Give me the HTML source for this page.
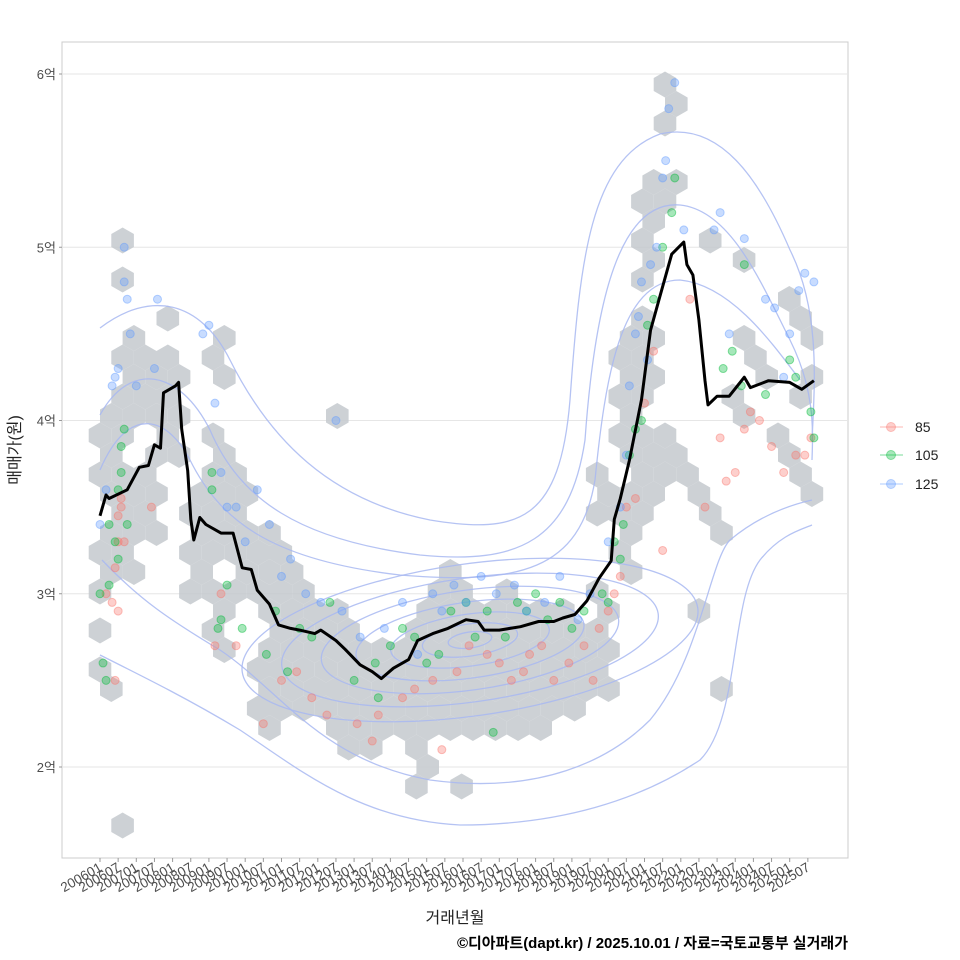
<!DOCTYPE html>
<html><head><meta charset="utf-8"><style>
body{margin:0;background:#fff;}
svg{display:block;font-family:"Liberation Sans","Noto Sans CJK KR",sans-serif;}
</style></head><body>
<svg id="chart" width="960" height="960" viewBox="0 0 960 960">
<rect x="0" y="0" width="960" height="960" fill="#fff"/>
<rect x="62" y="42" width="786" height="816" fill="#fff" stroke="#cccccc" stroke-width="1"/>
<g id="grid"></g>
<g id="hexes"></g>
<g id="contours" fill="none" stroke="#a9b9f2" stroke-width="1.3" opacity="0.85">
<path d="M100,328 C150,290 200,300 230,360 C270,440 330,500 430,520 C520,535 560,520 570,400 C580,260 590,160 660,134 C720,120 760,180 790,250 C820,310 815,380 812,440"/>
<path d="M100,415 C130,360 180,370 210,430 C240,500 300,540 420,555 C520,565 570,540 585,440 C595,300 620,200 680,205 C730,210 760,280 790,340 C815,390 813,430 812,460"/>
<path d="M100,470 C130,400 170,420 190,460 C220,520 270,560 400,575 C520,585 580,570 595,480 C605,380 620,280 680,280 C730,285 770,340 800,380"/>
<path d="M102,560 C140,600 170,620 220,650 C280,690 320,760 430,780 C540,795 610,760 650,720 C700,660 710,560 730,540 C760,515 790,505 812,500"/>
<path d="M100,655 C150,680 190,700 240,730 C300,770 360,820 460,825 C560,825 640,800 700,760 C740,720 730,600 760,560 C780,535 800,530 812,525"/>
</g>
<g id="ellipses" fill="none" stroke="#a9b9f2" stroke-width="1.3" opacity="0.85"></g>
<g id="points"></g>
<g id="medianLine"></g>
<g id="yaxis"></g>
<g id="xaxis"></g>
<text x="20" y="450" transform="rotate(-90 20 450)" text-anchor="middle" font-size="16" fill="#222">매매가(원)</text>
<text x="455" y="923" text-anchor="middle" font-size="16" fill="#222">거래년월</text>
<text x="848" y="948" text-anchor="end" font-size="15" font-weight="bold" fill="#000">©디아파트(dapt.kr) / 2025.10.01 / 자료=국토교통부 실거래가</text>
<g id="legend"></g>
</svg>
<script>
// ---- data ----
const yTicks = [2,3,4,5,6];
const yTickLabels = ["2억","3억","4억","5억","6억"];
const xTickLabels = [];
for (let y=2006;y<=2025;y++){ xTickLabels.push(y+"01"); xTickLabels.push(y+"07"); }
const lineMonths = [0,2,3,9,13,16,18,20,21,25,26,27,29,30,31,33,35,40,44,47,50,52,56,59,63,66,71,73,78,81,86,90,93,97,102,105,110,115,121,125,127,132,139,145,150,153,157,161,165,169,170,172,175,179,182,185,189,193,194,196,198,200,201,204,208,213,215,221,228,232,236];
const lineValues = [3.45,3.57,3.55,3.60,3.73,3.74,3.86,3.84,4.16,4.20,4.22,3.95,3.71,3.43,3.31,3.44,3.40,3.35,3.35,3.15,3.14,3.02,2.94,2.82,2.80,2.79,2.77,2.79,2.73,2.68,2.59,2.55,2.51,2.57,2.62,2.73,2.77,2.80,2.85,2.84,2.79,2.79,2.81,2.84,2.84,2.86,2.88,2.96,3.09,3.19,3.43,3.55,3.77,4.12,4.52,4.71,4.96,5.03,4.90,4.84,4.58,4.23,4.09,4.14,4.14,4.25,4.19,4.23,4.22,4.18,4.23];
// hexbin lattice columns: [col, rowStart, rowEnd]
const hexRanges = [[0,4,18],[1,10,22],[1,25,25],[1,27,27],[1,-3,-3],[2,12,21],[3,16,23],[4,9,14],[5,6,22],[6,9,15],[7,2,12],[8,3,11],[9,3,9],[10,18,18],[10,2,8],[11,1,7],[12,1,6],[13,2,6],[14,-1,8],[15,2,10],[16,2,9],[16,-1,-1],[17,2,8],[18,2,9],[19,2,8],[20,3,8],[21,3,7],[22,4,9],[22,13,15],[23,10,22],[24,13,30],[25,33,35],[25,15,17],[25,29,30],
 [26,8,8],[26,14,15],[27,4,4],[27,12,13],[27,27,27],[28,26,26],[28,18,19],[28,22,22],[29,20,21],[30,24,24],[30,16,17],[31,19,20],[31,22,23],[31,14,15]];
const hexSkip = ["5,18","5,19","7,7","0,6","0,8","0,13","1,16","2,17","3,22","5,10","24,18","24,24","23,15"];
const ptsRed = [[2,3.0],[4,2.95],[5,3.15],[6,3.3],[6,2.9],[7,3.5],[7,3.55],[8,3.3],[6,3.45],[5,2.5],[17,3.5],[40,3.0],[38,2.7],[45,2.7],[54,2.25],[60,2.5],[65,2.55],[70,2.4],[75,2.3],[85,2.25],[90,2.15],[92,2.3],[100,2.4],[104,2.45],[110,2.5],[113,2.1],[118,2.55],[122,2.7],[128,2.65],[132,2.6],[136,2.5],[140,2.55],[142,2.65],[146,2.7],[150,2.5],[155,2.6],[160,2.7],[163,2.5],[165,2.8],[168,2.9],[170,3.0],[172,3.1],[174,3.5],[177,3.55],[180,4.1],[183,4.4],[186,3.25],[195,4.7],[200,3.5],[205,3.9],[207,3.65],[210,3.7],[213,3.95],[215,4.05],[218,4.0],[222,3.85],[226,3.7],[230,3.8],[233,3.8],[235,3.9]];
const ptsGreen = [[0,3.0],[1,2.6],[3,3.05],[5,3.3],[6,3.6],[7,3.7],[7,3.85],[8,3.95],[9,3.4],[6,3.2],[3,3.4],[2,2.5],[37,3.6],[37,3.7],[39,2.8],[40,2.85],[42,3.05],[47,2.8],[55,2.65],[58,2.9],[62,2.55],[66,2.8],[70,2.75],[76,2.95],[84,2.5],[91,2.6],[92,2.4],[96,2.7],[100,2.8],[104,2.75],[108,2.6],[112,2.65],[116,2.9],[121,2.95],[124,2.75],[128,2.9],[130,2.2],[134,2.75],[138,2.95],[141,2.9],[144,3.0],[148,2.85],[152,2.95],[156,2.8],[160,2.9],[166,3.0],[168,2.95],[170,3.3],[172,3.2],[173,3.4],[175,3.8],[177,3.95],[179,4.0],[181,4.55],[183,4.7],[186,5.0],[189,5.2],[190,5.4],[206,4.3],[209,4.4],[212,4.2],[213,4.9],[220,4.15],[228,4.35],[230,4.25],[235,4.05],[236,3.9]];
const ptsBlue = [[0,3.4],[2,3.6],[4,4.2],[5,4.25],[6,4.3],[8,4.8],[8,5.0],[9,4.7],[10,4.5],[12,4.2],[18,4.3],[19,4.7],[34,4.5],[36,4.55],[38,4.1],[40,3.7],[42,3.5],[45,3.5],[48,3.3],[52,3.6],[56,3.4],[60,3.1],[63,3.2],[68,3.0],[73,2.95],[78,4.0],[80,2.9],[86,2.75],[94,2.8],[100,2.95],[105,2.65],[110,3.0],[113,2.9],[117,3.05],[121,2.95],[126,3.1],[131,3.0],[137,3.05],[141,2.9],[147,2.95],[152,3.1],[158,2.85],[162,3.0],[168,3.3],[172,3.5],[174,3.8],[175,4.2],[177,4.5],[178,4.6],[179,4.8],[181,4.35],[182,4.9],[184,5.0],[186,5.4],[187,5.5],[188,5.8],[190,5.95],[193,5.1],[203,5.1],[205,5.2],[208,4.5],[213,5.05],[220,4.7],[223,4.65],[228,4.5],[231,4.75],[233,4.85],[236,4.8],[226,4.25]];
const ellipseRx = [22,48,80,115,150,190,230];
const ellipseRy = [8,16,26,38,50,62,76];

// ---- scales ----
const NS="http://www.w3.org/2000/svg";
const xS = m => 100 + m*3.025;
const yS = v => 767 - (v-2)*173.25;
function mk(tag, attrs, parent){const e=document.createElementNS(NS,tag);for(const k in attrs)e.setAttribute(k,attrs[k]);parent.appendChild(e);return e;}

const grid=document.getElementById('grid');
yTicks.forEach(v=>{
  const l=mk('line',{x1:62,x2:848,y1:yS(v),y2:yS(v),stroke:'#e6e6e6','stroke-width':1},grid);
  
  
});

// hexes
const hexG=document.getElementById('hexes');
const R=13;
hexRanges.forEach(([i,a,b])=>{
  for(let j=a;j<=b;j++){
    if(hexSkip.includes(i+","+j)) continue;
    const cx=100+i*22.6+((Math.abs(j)%2)?0:11.3);
    const cy=767-j*19.5;
    let d='';
    for(let k=0;k<6;k++){const ang=Math.PI/180*(60*k-90);d+=(k?'L':'M')+(cx+R*Math.cos(ang)).toFixed(1)+','+(cy+R*Math.sin(ang)).toFixed(1);}
    const h=mk('path',{d:d+'Z',fill:'#c4c9ce',opacity:0.85},hexG);
    
    
  }
});

// inner ellipses
const eg=document.getElementById('ellipses');
ellipseRx.forEach((rx,k)=>{
  const e=mk('ellipse',{cx:470,cy:640,rx:rx,ry:ellipseRy[k],transform:'rotate(-8 470 640)'},eg);
  
  
});

// points
const pg=document.getElementById('points');
[[ptsRed,'#f8766d','size-85'],[ptsGreen,'#00ba38','size-105'],[ptsBlue,'#619cff','size-125']].forEach(([arr,col,nm])=>{
  arr.forEach(([m,v])=>{
    const c=mk('circle',{cx:xS(m),cy:yS(v),r:4,fill:col,'fill-opacity':0.35,stroke:col,'stroke-opacity':0.45},pg);
    
    
  });
});

// line
const lg=document.getElementById('medianLine');
const pl=mk('polyline',{points:lineMonths.map((m,i)=>xS(m).toFixed(1)+','+yS(lineValues[i]).toFixed(1)).join(' '),fill:'none',stroke:'#000','stroke-width':3,'stroke-linejoin':'round'},lg);



// y axis
const ya=document.getElementById('yaxis');
yTicks.forEach((v,i)=>{
  const t=mk('text',{x:56,y:yS(v)+5,'text-anchor':'end','font-size':13,fill:'#4d4d4d'},ya);
  t.textContent=yTickLabels[i];
  
  
  mk('line',{x1:59,x2:62,y1:yS(v),y2:yS(v),stroke:'#999'},ya);
});
// x axis
const xa=document.getElementById('xaxis');
xTickLabels.forEach((lab,i)=>{
  const x=xS(i*6);
  mk('line',{x1:x,x2:x,y1:858,y2:862,stroke:'#999'},xa);
  const t=mk('text',{x:x+3,y:870,'text-anchor':'end','font-size':13.5,fill:'#4d4d4d',transform:`rotate(-30 ${x+3} 870)`},xa);
  t.textContent=lab;
  
  
});

// legend
const leg=document.getElementById('legend');
[['85','#f8766d',427],['105','#00ba38',455],['125','#619cff',484]].forEach(([lab,col,y])=>{
  const g=mk('g',{},leg);
  
  
  mk('line',{x1:880,x2:903,y1:y,y2:y,stroke:col,'stroke-opacity':0.35,'stroke-width':1.5},g);
  mk('circle',{cx:891,cy:y,r:4.5,fill:col,'fill-opacity':0.35,stroke:col,'stroke-opacity':0.4},g);
  const t=mk('text',{x:915,y:y+5,'font-size':14,fill:'#222'},g);
  t.textContent=lab;
});
</script>
</body></html>
